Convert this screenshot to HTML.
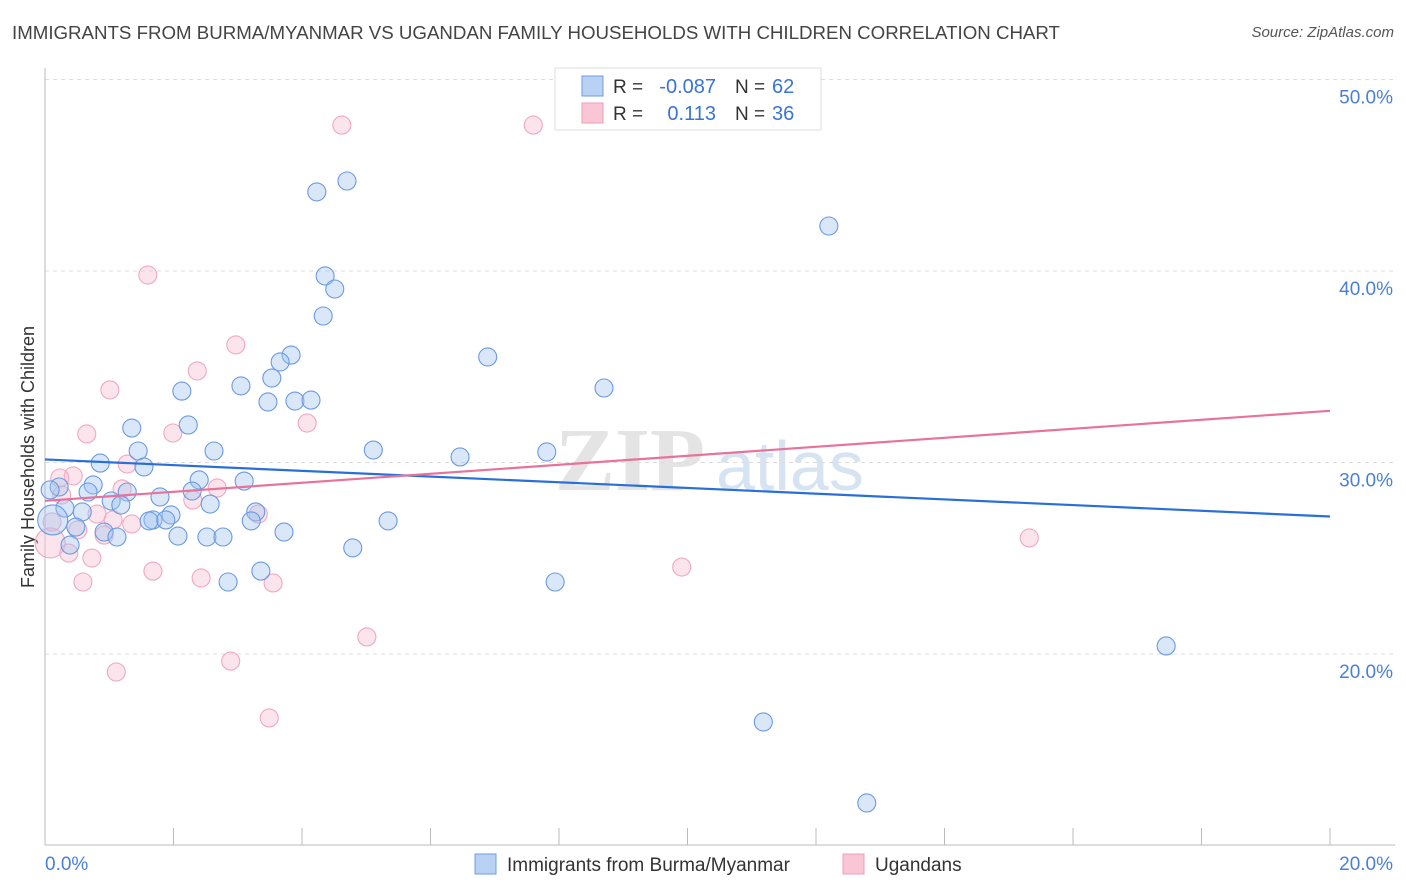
<!DOCTYPE html>
<html><head><meta charset="utf-8"><style>
body{margin:0;background:#fff;font-family:"Liberation Sans",sans-serif;}
#wrap{position:relative;width:1406px;height:892px;overflow:hidden;}
.t{position:absolute;white-space:nowrap;}
</style></head><body>
<div id="wrap">
<div class="t" style="left:12px;top:22px;font-size:18.7px;color:#444;">IMMIGRANTS FROM BURMA/MYANMAR VS UGANDAN FAMILY HOUSEHOLDS WITH CHILDREN CORRELATION CHART</div>
<div class="t" style="right:12px;top:24px;font-size:15px;color:#555;font-style:italic;">Source: ZipAtlas.com</div>
<svg id="svg" width="1406" height="892" style="position:absolute;left:0;top:0"></svg>
</div>
<script>
const yTicks=[20,30,40,50];
const yTickLabels=["20.0%","30.0%","40.0%","50.0%"];
const xTickLabels=["0.0%","20.0%"];
const blueX=[4.70,4.23,12.20,4.36,4.51,4.33,3.83,6.89,3.66,3.53,3.05,2.13,8.70,3.47,3.89,4.14,2.23,1.35,2.63,1.45,5.11,6.46,7.81,0.86,1.54,2.40,3.10,0.75,0.22,0.67,1.28,1.79,2.29,1.03,0.31,1.18,2.57,0.58,3.28,1.96,1.68,1.62,1.88,3.21,5.34,0.48,0.92,1.12,2.07,2.52,2.77,3.72,0.39,4.79,2.85,7.94,3.36,17.45,11.18,12.79,0.12,0.08];
const blueY=[44.70,44.13,42.35,39.74,39.06,37.65,35.61,35.51,35.25,34.41,34.00,33.73,33.89,33.16,33.21,33.26,31.96,31.80,30.60,30.60,30.65,30.29,30.55,29.97,29.77,29.09,29.03,28.83,28.72,28.46,28.46,28.20,28.51,27.99,27.62,27.78,27.83,27.42,27.42,27.26,27.00,26.95,27.00,26.95,26.95,26.63,26.37,26.11,26.16,26.11,26.11,26.37,25.69,25.54,23.76,23.76,24.33,20.42,16.45,12.22,27.00,28.57];
const pinkX=[4.62,7.60,1.60,2.97,2.37,1.01,4.08,0.65,1.99,1.28,0.44,0.23,0.26,1.20,2.68,2.30,0.81,1.35,1.06,3.32,0.51,0.92,0.08,0.73,0.37,1.68,0.59,2.43,3.55,9.91,15.32,5.01,1.11,2.89,3.49,0.11];
const pinkY=[47.62,47.62,39.79,36.14,34.78,33.79,32.06,31.49,31.54,29.92,29.30,29.19,28.30,28.62,28.67,28.04,27.31,26.79,27.00,27.31,26.48,26.21,25.80,25.01,25.27,24.33,23.76,23.97,23.71,24.54,26.06,20.89,19.06,19.63,16.66,26.90];
const blueTrend=[30.16,27.18];
const pinkTrend=[28.0,32.7];
const NS="http://www.w3.org/2000/svg";
const svg=document.getElementById('svg');
const sx=v=>45+v/20*1285;
const sy=v=>79.5+(50-v)*19.15;
function mk(tag,attrs,parent){const e=document.createElementNS(NS,tag);for(const k in attrs)e.setAttribute(k,attrs[k]);(parent||svg).appendChild(e);return e;}
let wm=mk('text',{x:555,y:490,'font-size':90,'font-family':'Liberation Serif',fill:'#e4e4e4','font-weight':'bold'});
wm.textContent='ZIP';


let wm2=mk('text',{x:716,y:490,'font-size':70,'font-family':'Liberation Sans',fill:'#d6e3f3'});
wm2.textContent='atlas';


yTicks.forEach((v,i)=>{
  let g=mk('line',{x1:45,x2:1395,y1:sy(v),y2:sy(v),stroke:'#dcdcdc','stroke-dasharray':'4,4'});
  
  
  let t=mk('text',{x:1393,y:sy(v)+24,'text-anchor':'end','font-size':19,fill:'#4a7fd6','font-family':'Liberation Sans'});
  t.textContent=yTickLabels[i];
  
  
});
let ax=mk('line',{x1:45,x2:45,y1:68,y2:845,stroke:'#bbb'});


let bx=mk('line',{x1:45,x2:1395,y1:845,y2:845,stroke:'#bbb'});


for(let i=0;i<=10;i++){
  let tk=mk('line',{x1:sx(i*2),x2:sx(i*2),y1:828,y2:845,stroke:'#bbb'});
  
  
}
[[0,'start',45],[1,'end',1393]].forEach(([i,a,x])=>{
  let t=mk('text',{x:x,y:870,'text-anchor':a,'font-size':19,fill:'#4a7fd6','font-family':'Liberation Sans'});
  t.textContent=xTickLabels[i];
  
  
});
let yt=mk('text',{x:34,y:457,'text-anchor':'middle','font-size':18,fill:'#333','font-family':'Liberation Sans',transform:'rotate(-90 34 457)'});
yt.textContent='Family Households with Children';


function pts(X,Y,fill,stroke,name,bigIdx){
  X.forEach((x,i)=>{
    let c=mk('circle',{cx:sx(x),cy:sy(Y[i]),r:(i===bigIdx?15:9),fill:fill,stroke:stroke,'stroke-width':1.1});
    
    
  });
}
pts(pinkX,pinkY,'rgba(248,188,208,0.4)','#f0a8c0','ugandans-point',22);
pts(blueX,blueY,'rgba(160,196,240,0.4)','#6a9ae2','burma-point',60);
let bl=mk('line',{x1:sx(0),x2:sx(20),y1:sy(blueTrend[0]),y2:sy(blueTrend[1]),stroke:'#2a6fd6','stroke-width':2.2});


let pl=mk('line',{x1:sx(0),x2:sx(20),y1:sy(pinkTrend[0]),y2:sy(pinkTrend[1]),stroke:'#e8739a','stroke-width':2.2});


let lb=mk('rect',{x:555,y:68,width:266,height:62,fill:'#fff',stroke:'#ddd'});


[[0,'#b8d1f5','#6e9de0','-0.087','62'],[1,'#fac6d6','#ef9fb9','0.113','36']].forEach(([i,f,s,r,n])=>{
  const y=86+i*27;
  let sq=mk('rect',{x:582,y:y-10,width:21,height:20,fill:f,stroke:s});
  
  
  let t1=mk('text',{x:613,y:y+7,'font-size':19,fill:'#333','font-family':'Liberation Sans'});t1.textContent='R =';
  
  
  let t2=mk('text',{x:716,y:y+7,'text-anchor':'end','font-size':20,fill:'#3a74d3','font-family':'Liberation Sans'});t2.textContent=r;
  
  
  let t3=mk('text',{x:735,y:y+7,'font-size':19,fill:'#333','font-family':'Liberation Sans'});t3.textContent='N =';
  
  
  let t4=mk('text',{x:772,y:y+7,'font-size':20,fill:'#3a74d3','font-family':'Liberation Sans'});t4.textContent=n;
  
  
});
[[475,'#b8d1f5','#6e9de0','Immigrants from Burma/Myanmar','legend-burma'],[843,'#fac6d6','#ef9fb9','Ugandans','legend-ugandans']].forEach(([x,f,s,l,nm])=>{
  let sq=mk('rect',{x:x,y:854,width:21,height:20,fill:f,stroke:s});
  
  
  let t=mk('text',{x:x+32,y:871,'font-size':19,fill:'#333','font-family':'Liberation Sans'});t.textContent=l;
  
  
});
</script>
</body></html>
